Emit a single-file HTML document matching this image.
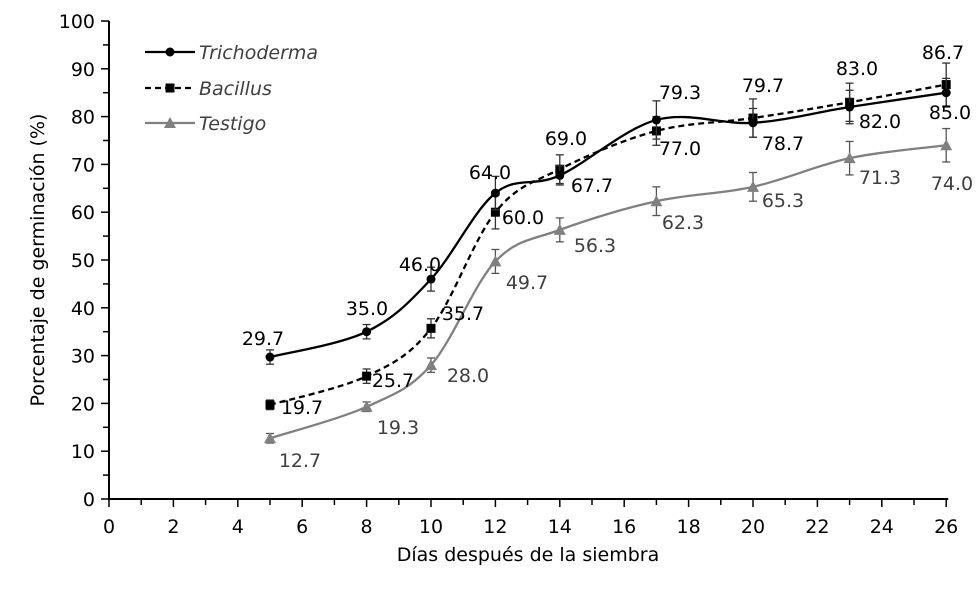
<!DOCTYPE html>
<html><head><meta charset="utf-8"><style>
body{margin:0;background:#fff}
svg text{font-family:"DejaVu Sans","Liberation Sans",sans-serif;}
</style></head><body>
<svg id="s" width="980" height="589" xmlns="http://www.w3.org/2000/svg"></svg>
<script>
const s=document.getElementById('s');const NS='http://www.w3.org/2000/svg';
function el(t,a,txt){const e=document.createElementNS(NS,t);for(const k in a)e.setAttribute(k,a[k]);if(txt!==undefined)e.textContent=txt;s.appendChild(e);return e;}
const X=v=>109+v*32.2, Y=v=>499-v*4.78;
const FS=19;
el('line',{x1:109,y1:Y(100),x2:109,y2:499,stroke:'#000','stroke-width':2});
el('line',{x1:109,y1:499,x2:X(26)+2,y2:499,stroke:'#000','stroke-width':2});
for(let v=0;v<=100;v+=5){el('line',{x1:v%10?103:101,y1:Y(v),x2:109,y2:Y(v),stroke:'#000','stroke-width':1.5});
 if(v%10==0)el('text',{x:95,y:Y(v)+7,'text-anchor':'end','font-size':FS},v);}
for(let v=0;v<=26;v++){el('line',{x1:X(v),y1:499,x2:X(v),y2:v%2?505:507,stroke:'#000','stroke-width':1.5});
 if(v%2==0)el('text',{x:X(v),y:533,'text-anchor':'middle','font-size':FS},v);}
el('text',{x:528,y:561,'text-anchor':'middle','font-size':FS},'Días después de la siembra');
el('text',{x:44,y:260,'text-anchor':'middle','font-size':FS,transform:'rotate(-90 44 260)'},'Porcentaje de germinación (%)');
const xs=[5,8,10,12,14,17,20,23,26];
const S=[
 {d:[29.7,35,46,64,67.7,79.3,78.7,82,85],e:[1.5,1.5,2.5,3.5,2,4,3,3.5,3],c:'#000',dash:null,m:'c',lc:'#000',
  L:[[263,338],[367,308],[420,264],[490,172],[592,185],[680,92],[783,143],[880,121],[950,112]]},
 {d:[19.7,25.7,35.7,60,69,77,79.7,83,86.7],e:[1,1.5,2,3.5,3,3,4,4,4.5],c:'#000',dash:'6,4',m:'s',lc:'#000',
  L:[[302,407],[393,380],[463,313],[523,217],[566,138],[680,148],[763,85],[857,68],[943,52]]},
 {d:[12.7,19.3,28,49.7,56.3,62.3,65.3,71.3,74],e:[1,1,1.5,2.5,2.5,3,3,3.5,3.5],c:'#808080',dash:null,m:'t',lc:'#404040',
  L:[[300,460],[398,427],[468,375],[527,282],[595,245],[683,222],[783,200],[880,177],[952,183]]}
];
function path(p){let d='M'+p[0][0]+','+p[0][1];const t=1/6;
 for(let i=0;i<p.length-1;i++){const p0=p[i-1]||p[i],p1=p[i],p2=p[i+1],p3=p[i+2]||p2;
  d+=' C'+(p1[0]+(p2[0]-p0[0])*t)+','+(p1[1]+(p2[1]-p0[1])*t)+' '+(p2[0]-(p3[0]-p1[0])*t)+','+(p2[1]-(p3[1]-p1[1])*t)+' '+p2[0]+','+p2[1];}
 return d;}
function marker(m,x,y,c){if(m=='c')el('circle',{cx:x,cy:y,r:4.5,fill:c});
 else if(m=='s')el('rect',{x:x-4.5,y:y-4.5,width:9,height:9,fill:c});
 else el('polygon',{points:`${x},${y-6} ${x-6},${y+5} ${x+6},${y+5}`,fill:c});}
[2,1,0].forEach(k=>{const q=S[k];const p=xs.map((x,i)=>[X(x),Y(q.d[i])]);
 const a={d:path(p),fill:'none',stroke:q.c,'stroke-width':2.3};if(q.dash)a['stroke-dasharray']=q.dash;el('path',a);
 p.forEach((pt,i)=>{const e=q.e[i]*4.78,ec=k==2?'#555':'#333';
  el('line',{x1:pt[0],y1:pt[1]-e,x2:pt[0],y2:pt[1]+e,stroke:ec,'stroke-width':1.3});
  el('line',{x1:pt[0]-4,y1:pt[1]-e,x2:pt[0]+4,y2:pt[1]-e,stroke:ec,'stroke-width':1.3});
  el('line',{x1:pt[0]-4,y1:pt[1]+e,x2:pt[0]+4,y2:pt[1]+e,stroke:ec,'stroke-width':1.3});
  marker(q.m,pt[0],pt[1],q.c);});
});
S.forEach(q=>q.L.forEach((l,i)=>el('text',{x:l[0],y:l[1]+7,'text-anchor':'middle','font-size':FS,fill:q.lc},q.d[i].toFixed(1))));
const lg=[['Trichoderma',52,0],['Bacillus',88,1],['Testigo',123,2]];
lg.forEach(([n,y,k])=>{const q=S[k];const a={x1:145,y1:y,x2:195,y2:y,stroke:q.c,'stroke-width':2.3};if(q.dash)a['stroke-dasharray']=q.dash;
 el('line',a);marker(q.m,170,y,q.c);el('text',{x:199,y:y+7,'font-size':FS,'font-style':'italic',fill:'#404040'},n);});
</script>
</body></html>
